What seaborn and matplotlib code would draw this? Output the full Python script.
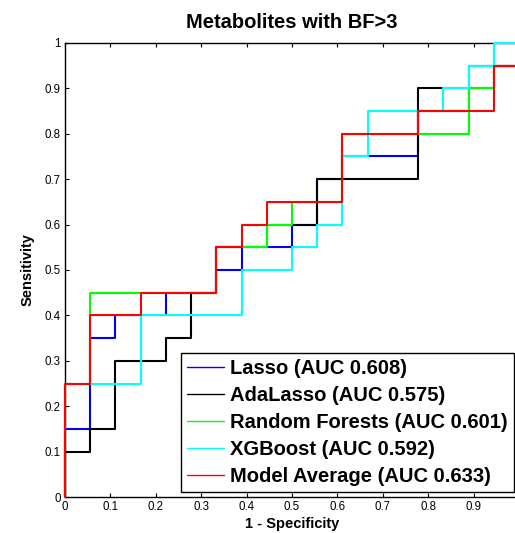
import numpy as np
import pandas as pd
import seaborn as sns
import matplotlib.pyplot as plt

# ROC data: 18 negatives, 20 positives -> sensitivity reached on each 1/18 step of 1-specificity
n_neg = 18
models = ['Lasso', 'AdaLasso', 'Random Forests', 'XGBoost', 'Model Average']
auc = ['0.608', '0.575', '0.601', '0.592', '0.633']
colors = ['#0000ff', '#000000', '#00ff00', '#00ffff', '#ff0000']

tpr_lasso = [0.15, 0.35, 0.40, 0.40, 0.45, 0.45, 0.50, 0.55, 0.55, 0.60, 0.70, 0.75, 0.75, 0.75, 0.85, 0.85, 0.95, 0.95]
tpr_adalasso = [0.10, 0.15, 0.30, 0.30, 0.35, 0.45, 0.55, 0.55, 0.60, 0.60, 0.70, 0.70, 0.70, 0.70, 0.90, 0.90, 0.90, 0.95]
tpr_rf = [0.25, 0.45, 0.45, 0.45, 0.45, 0.45, 0.55, 0.55, 0.60, 0.65, 0.65, 0.80, 0.80, 0.80, 0.80, 0.80, 0.90, 0.95]
tpr_xgb = [0.25, 0.25, 0.25, 0.40, 0.40, 0.40, 0.40, 0.50, 0.50, 0.55, 0.60, 0.75, 0.85, 0.85, 0.85, 0.90, 0.95, 1.00]
tpr_avg = [0.25, 0.40, 0.40, 0.45, 0.45, 0.45, 0.55, 0.60, 0.65, 0.65, 0.65, 0.80, 0.80, 0.80, 0.85, 0.85, 0.85, 0.95]

x_ticks = [0, 0.1, 0.2, 0.3, 0.4, 0.5, 0.6, 0.7, 0.8, 0.9]
x_labels = ['0', '0.1', '0.2', '0.3', '0.4', '0.5', '0.6', '0.7', '0.8', '0.9']
y_ticks = [0, 0.1, 0.2, 0.3, 0.4, 0.5, 0.6, 0.7, 0.8, 0.9, 1]
y_labels = ['0', '0.1', '0.2', '0.3', '0.4', '0.5', '0.6', '0.7', '0.8', '0.9', '1']

rows = []
for name, a, tpr in zip(models, auc, [tpr_lasso, tpr_adalasso, tpr_rf, tpr_xgb, tpr_avg]):
    label = '%s (AUC %s)' % (name, a)
    fpr = np.r_[0, np.arange(n_neg) / n_neg, 1]
    sens = np.r_[0, tpr, 1]
    for f, s in zip(fpr, sens):
        rows.append({'fpr': f, 'tpr': s, 'model': label})
df = pd.DataFrame(rows)
labels = ['%s (AUC %s)' % (m, a) for m, a in zip(models, auc)]

sns.set_style('ticks')
plt.rcParams['font.family'] = ['Liberation Sans', 'DejaVu Sans']
for k in ['text.color', 'axes.labelcolor', 'xtick.color', 'ytick.color', 'axes.edgecolor']:
    plt.rcParams[k] = 'black'

W, H = 515, 533
fig = plt.figure(figsize=(W / 100, H / 100), dpi=100)
ax = fig.add_axes([65 / W, 36 / H, 454 / W, 454 / H])

sns.lineplot(data=df, x='fpr', y='tpr', hue='model', hue_order=labels,
             palette=dict(zip(labels, colors)), sort=False, estimator=None,
             drawstyle='steps-post', linewidth=1.5, zorder=3, clip_on=False, ax=ax)

ax.set_xlim(0, 1)
ax.set_ylim(0, 1)
ax.set_xticks(x_ticks)
ax.set_xticklabels(x_labels)
ax.set_yticks(y_ticks)
ax.set_yticklabels(y_labels)
ax.tick_params(direction='in', length=3, width=0.8, top=True, right=True,
               labelsize=8.3, pad=3, colors='black')
for sp in ax.spines.values():
    sp.set_visible(True)
    sp.set_linewidth(1.0)
    sp.set_color('black')

ax.set_xlabel('1 - Specificity', fontsize=10.5, fontweight='bold')
ax.set_ylabel('Sensitivity', fontsize=10.5, fontweight='bold')
ax.xaxis.set_label_coords(0.5, -0.044)
ax.yaxis.set_label_coords(-0.066, 0.5)
ax.set_title('Metabolites with BF>3', fontsize=14.5, fontweight='bold', pad=11)

handles, _ = ax.get_legend_handles_labels()
leg = ax.legend(handles, labels, loc='lower right', bbox_to_anchor=(514 / W, 41 / H),
                bbox_transform=fig.transFigure, borderaxespad=0, fancybox=False,
                edgecolor='black', framealpha=1, prop={'weight': 'bold', 'size': 14.5},
                handlelength=1.84, handletextpad=0.3, labelspacing=0.4, borderpad=0.3)
leg.get_frame().set_linewidth(1.0)
leg.set_zorder(5)
for ln in leg.get_lines():
    ln.set_linewidth(1.0)

fig.savefig('out.png', dpi=100)
